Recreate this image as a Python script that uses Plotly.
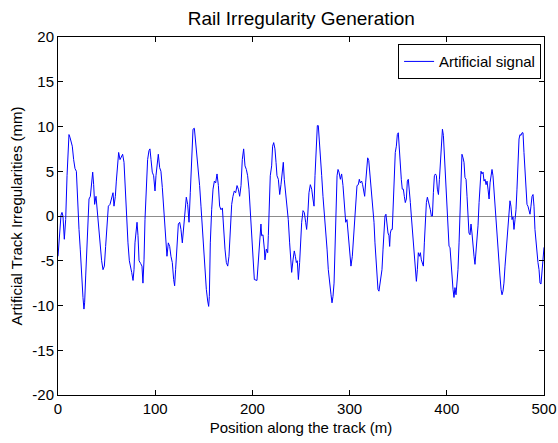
import plotly.graph_objects as go

position_m = [
    0, 1.7, 3.1, 4.1, 5.1, 6.5, 7.9, 9.3, 10.6, 11.3, 12.3, 13.4, 14.7, 16.1, 17.5, 18.9,
    20.2, 21.6, 22.9, 24.3, 25.7, 26.7, 27.4, 28.5, 29.8, 30.9, 31.9, 33.3, 34.6, 35.7,
    36.7, 37.7, 39.1, 40.1, 41.5, 43.2, 44.9, 46.3, 47.7, 49.0, 50.4, 51.8, 53.5, 55.2,
    56.6, 57.6, 59.0, 60.0, 61.4, 62.4, 63.8, 65.2, 66.5, 67.9, 69.3, 70.6, 72.0, 73.4,
    74.7, 75.8, 77.2, 78.2, 79.2, 80.3, 81.3, 82.3, 83.4, 85.0, 86.4, 87.4, 88.5, 89.5,
    90.9, 92.2, 93.6, 94.6, 95.7, 97.0, 98.4, 99.8,
    100.8, 102.5, 103.2, 104.6, 105.9, 107.3, 108.7, 110.1, 111.1, 112.1, 113.5, 114.9,
    116.2, 117.6, 119.0, 120.0, 121.0, 122.4, 123.8, 125.2, 126.5, 127.9, 129.3, 130.6,
    132.0, 133.4, 134.8, 136.1, 137.5, 138.9, 140.3, 141.6, 143.0, 144.4, 145.7, 147.1,
    148.5, 149.9, 151.2, 152.6, 154.0, 155.0, 155.7, 156.7, 158.1, 159.5, 160.9, 162.2,
    163.6, 165.0, 166.3, 167.7, 169.1, 170.4, 171.8, 173.2, 174.6, 175.9, 177.3, 178.7,
    180.0, 181.4, 182.8, 184.2, 185.5, 186.9, 188.3, 189.6, 191.0, 192.4, 193.8, 195.1,
    196.5, 197.9, 199.2, 200.6, 202.0,
    204.7, 206.1, 207.5, 208.8, 209.5, 210.9, 212.3, 212.9, 214.3, 215.7, 216.4, 217.4,
    218.4, 219.8, 220.8, 221.9, 223.2, 224.3, 225.3, 226.7, 228.1, 229.4, 230.8, 231.8,
    232.8, 234.2, 235.6, 236.9, 238.3, 239.7, 240.4, 241.8, 243.1, 244.2, 245.2, 246.2,
    247.3, 248.6, 249.7, 250.7, 252.1, 253.4, 254.8, 255.8, 256.9, 258.2, 259.6, 261.0,
    262.3, 263.4, 264.4, 265.8, 266.8, 267.8, 268.9, 269.9, 271.3, 272.6, 274.0, 275.4,
    276.8, 278.1, 279.5, 280.9, 281.9, 282.9, 284.0, 285.0, 286.0, 287.1, 288.1, 289.1,
    290.5, 291.8, 293.2, 294.6, 296.0, 297.3, 298.7, 300.1, 301.4, 302.8, 304.2,
    305.6, 306.6, 307.6, 309.0, 310.0, 311.0, 312.4, 313.4, 314.5, 315.5, 316.5, 317.6,
    318.6, 319.7, 320.7, 321.7, 322.7, 324.1, 325.1, 326.1, 327.2, 328.2, 329.2, 330.2,
    331.3, 332.3, 333.3, 334.4, 335.4, 336.4, 337.4, 338.5, 339.5, 340.5, 341.2, 341.9,
    342.9, 343.9, 345.0, 346.0, 347.0, 348.1, 349.1, 350.1, 351.2, 352.2, 353.2, 354.2,
    355.3, 356.3, 357.3, 358.4, 359.4, 360.4, 361.5, 362.5, 363.5, 364.5, 365.6, 366.6,
    367.6, 368.7, 369.7, 370.7, 371.8, 372.8, 373.8, 374.9, 375.9, 376.9, 377.9, 379.0,
    380.0, 381.0, 382.1, 383.1, 384.1, 385.2, 386.2, 387.2, 388.3, 389.3, 390.3, 391.4,
    392.4, 393.4, 394.4, 395.5, 396.5, 397.5,
    398.1, 399.2, 400.2, 401.2, 402.3, 403.3, 404.3, 405.3, 406.4, 407.4, 408.4, 409.5,
    410.5, 411.5, 412.6, 413.6, 414.6, 415.6, 416.7, 417.7, 418.7, 419.8, 420.8, 421.8,
    422.8, 423.9, 424.9, 425.9, 427.0, 428.0, 429.0, 430.1, 431.1, 432.1, 433.2, 434.2,
    435.2, 436.2, 437.3, 438.3, 439.3, 440.4, 441.4, 442.4, 443.5, 444.5, 445.5, 446.5,
    447.5, 448.6, 449.6, 450.6, 451.6, 452.7, 453.7, 454.7, 455.8, 456.8, 457.8, 458.8,
    459.9, 460.9, 461.9, 463.0, 464.0, 465.0, 466.0, 467.1, 468.1, 469.1, 470.2, 471.2,
    472.2, 473.3, 474.3, 475.3, 476.3, 477.4, 478.4, 479.4, 480.5, 481.5, 482.5, 483.5,
    484.6, 485.6, 486.6, 487.7, 488.7, 489.7, 490.7, 491.8, 492.8, 493.8, 494.9, 495.9,
    496.9, 497.9, 499.0, 500.0,
]

irregularity_mm = [
    -4.5, -1.9, 0.1, 0.4, 0, -2.6, -0.4, 4.5, 8.2, 9.1, 8.8, 8.4, 7.8, 6.3, 5.3, 5.0,
    1.5, -1.5, -3.7, -7.3, -9.1, -10.4, -9.7, -6.7, -2.6, 0.7, 1.9, 2.2, 3.9, 4.9,
    3.5, 1.3, 2.2, 1.0, -0.7, -3.4, -5.0, -6.0, -5.6, -3.4, -1.5, 1.1, 1.3, 2.2,
    2.6, 1.1, 2.2, 3.9, 6.3, 7.1, 6.3, 6.7, 6.9, 6.0, 2.6, -0.4, -3.0, -5.0,
    -5.6, -6.3, -7.2, -6.0, -3.0, -1.7, -0.7, -2.2, -5.0, -5.3, -5.6, -7.5, -4.9, -0.4,
    3.7, 6.3, 7.3, 7.5, 6.3, 4.9, 4.5, 2.8,
    4.5, 6.7, 6.9, 5.4, 5.0, 3.2, 1.1, -0.7, -2.6, -4.5, -3.0, -3.4,
    -4.5, -5.2, -7.1, -7.8, -6.0, -3.7, -0.9, -0.7, -1.5, -3.0, -0.9, 1.1,
    2.1, 1.3, -0.7, 2.6, 6.3, 9.7, 9.8, 8.4, 7.1, 5.2, 3.4, 1.1,
    -1.5, -3.7, -6.0, -8.2, -9.5, -10.1, -9.0, -3.0, 0.7, 3.0, 3.9, 3.7,
    4.7, 3.4, 1.1, 0.7, 0.9, -1.5, -3.7, -5.2, -5.6, -4.5, -1.9, 1.3,
    2.2, 2.8, 2.6, 3.4, 3.0, 2.2, 3.4, 6.3, 7.5, 5.6, 5.2, 4.5,
    3.0, 0.4, -2.6, -4.9, -7.1,
    -7.2, -5.2, -2.2, -0.9, -2.2, -2.1, -3.7, -4.9, -3.7, -4.1, -2.2, 1.1,
    4.5, 5.6, 7.8, 8.2, 7.5, 6.0, 4.5, 4.1, 2.4, 3.5, 5.6, 6.0,
    4.1, 2.6, 1.5, -0.4, -3.0, -4.9, -6.3, -4.9, -3.9, -4.5, -5.2, -5.0,
    -7.1, -5.2, -2.6, -0.7, 0.6, 0.4, -0.7, -1.5, 0, 2.6, 3.5, 3.0,
    1.9, 1.1, 4.5, 8.2, 10.1, 10.1, 8.6, 6.7, 4.5, 2.2, 0.4, -1.5,
    -3.7, -6.0, -7.8, -8.8, -9.7, -9.0, -7.5, -3.0, 0.7, 4.5, 5.2, 4.9,
    4.1, 4.7, 3.4, 1.1, -0.7, -0.4, -2.2, -4.1, -5.6, -4.5, -2.2,
    0.7, 2.2, 3.4, 3.5, 4.1, 3.7, 3.9, 3.5, 3.0, 2.2, 3.7, 4.9,
    6.5, 6.2, 4.9, 3.4, 2.2, 1.1, -0.7, -3.0, -5.2, -6.7, -8.2, -8.4,
    -7.5, -6.7, -6.0, -3.7, -1.9, 0, 0.2, -1.5, -1.9, -2.2, -3.4, -1.9,
    -1.5, -1.5, 1.1, 4.5, 7.1, 7.8, 9.1, 9.3, 7.5, 4.9, 4.1, 3.0,
    3.0, 2.2, 1.5, 1.9, 3.9, 4.1, 3.0, 1.5, 0, -1.5, -2.2, -3.7,
    -5.6, -7.3, -6.0, -4.1, -4.5, -4.1, -4.9, -5.4, -5.6, -3.0, -0.4, 1.5,
    2.1, 1.7, 1.1, 0.7, 0, 0, 2.6, 4.5, 4.7, 4.5, 3.0, 2.4,
    4.1, 6.3, 8.2, 9.7, 9.0, 6.7,
    6.2, 3.4, 1.1, -1.1, -3.4, -3.5, -5.2, -6.7, -8.2, -9.1, -8.0, -8.8,
    -7.5, -6.0, -3.0, 0.7, 4.5, 6.9, 6.5, 6.0, 4.3, 4.1, 2.2, 0.7,
    -1.9, -2.1, -0.9, -1.9, -3.7, -4.5, -5.4, -3.7, -3.0, -1.1, 1.5, 3.7,
    5.0, 4.7, 4.9, 3.9, 4.1, 3.5, 3.9, 3.0, 1.9, 3.7, 4.9, 5.2,
    4.5, 2.6, 1.1, -0.4, -1.9, -3.4, -4.9, -6.7, -8.2, -8.8, -8.4, -7.5,
    -5.6, -4.1, -2.2, -0.7, 0.7, 1.7, 1.1, -0.4, -0.1, -1.5, -0.4, 0.7,
    3.0, 6.0, 8.6, 9.1, 9.0, 9.3, 9.3, 7.1, 4.5, 2.2, 1.3, 1.1,
    0.7, 0.2, 1.1, 2.2, 2.4, 1.1, -1.5, -3.0, -4.5, -5.2, -6.0, -7.5,
    -7.6, -6.0, -4.1, -3.5,
]

x_ticks = [0, 100, 200, 300, 400, 500]
x_tick_labels = ["0", "100", "200", "300", "400", "500"]
y_ticks = [-20, -15, -10, -5, 0, 5, 10, 15, 20]
y_tick_labels = ["-20", "-15", "-10", "-5", "0", "5", "10", "15", "20"]

FONT = "Liberation Sans, Arial, sans-serif"

fig = go.Figure()
fig.add_trace(go.Scatter(
    x=position_m, y=irregularity_mm, mode="lines",
    name="Artificial signal",
    line=dict(color="#0000ff", width=1),
))

axis_common = dict(
    showgrid=False, showline=True, linecolor="black", linewidth=1,
    mirror="allticks", ticks="inside", ticklen=5, tickcolor="black",
    automargin=False,
    tickfont=dict(family=FONT, size=15, color="black"),
)

fig.update_layout(
    width=558, height=443,
    margin=dict(l=58, r=14, t=37, b=48),
    paper_bgcolor="white", plot_bgcolor="white",
    font=dict(family=FONT, size=15, color="black"),
    title=dict(text="Rail Irregularity Generation", x=0.54, xanchor="center",
               y=1 - 18 / 443, yanchor="middle",
               font=dict(family=FONT, size=19, color="black")),
    xaxis=dict(range=[0, 500], tickvals=x_ticks, ticktext=x_tick_labels, zeroline=False,
               title=dict(text="Position along the track (m)", standoff=6,
                          font=dict(family=FONT, size=15)),
               **axis_common),
    yaxis=dict(range=[-20, 20], tickvals=y_ticks, ticktext=y_tick_labels,
               zeroline=True, zerolinecolor="#8c8c8c", zerolinewidth=1,
               title=dict(text="Artificial Track Irregularities (mm)", standoff=6,
                          font=dict(family=FONT, size=15)),
               **axis_common),
    showlegend=True,
    legend=dict(x=0.994, y=0.98, xanchor="right", yanchor="top",
                bgcolor="white", bordercolor="black", borderwidth=1,
                font=dict(family=FONT, size=15, color="black"),
                tracegroupgap=0, itemwidth=30),
)

fig.write_html("out.html")
